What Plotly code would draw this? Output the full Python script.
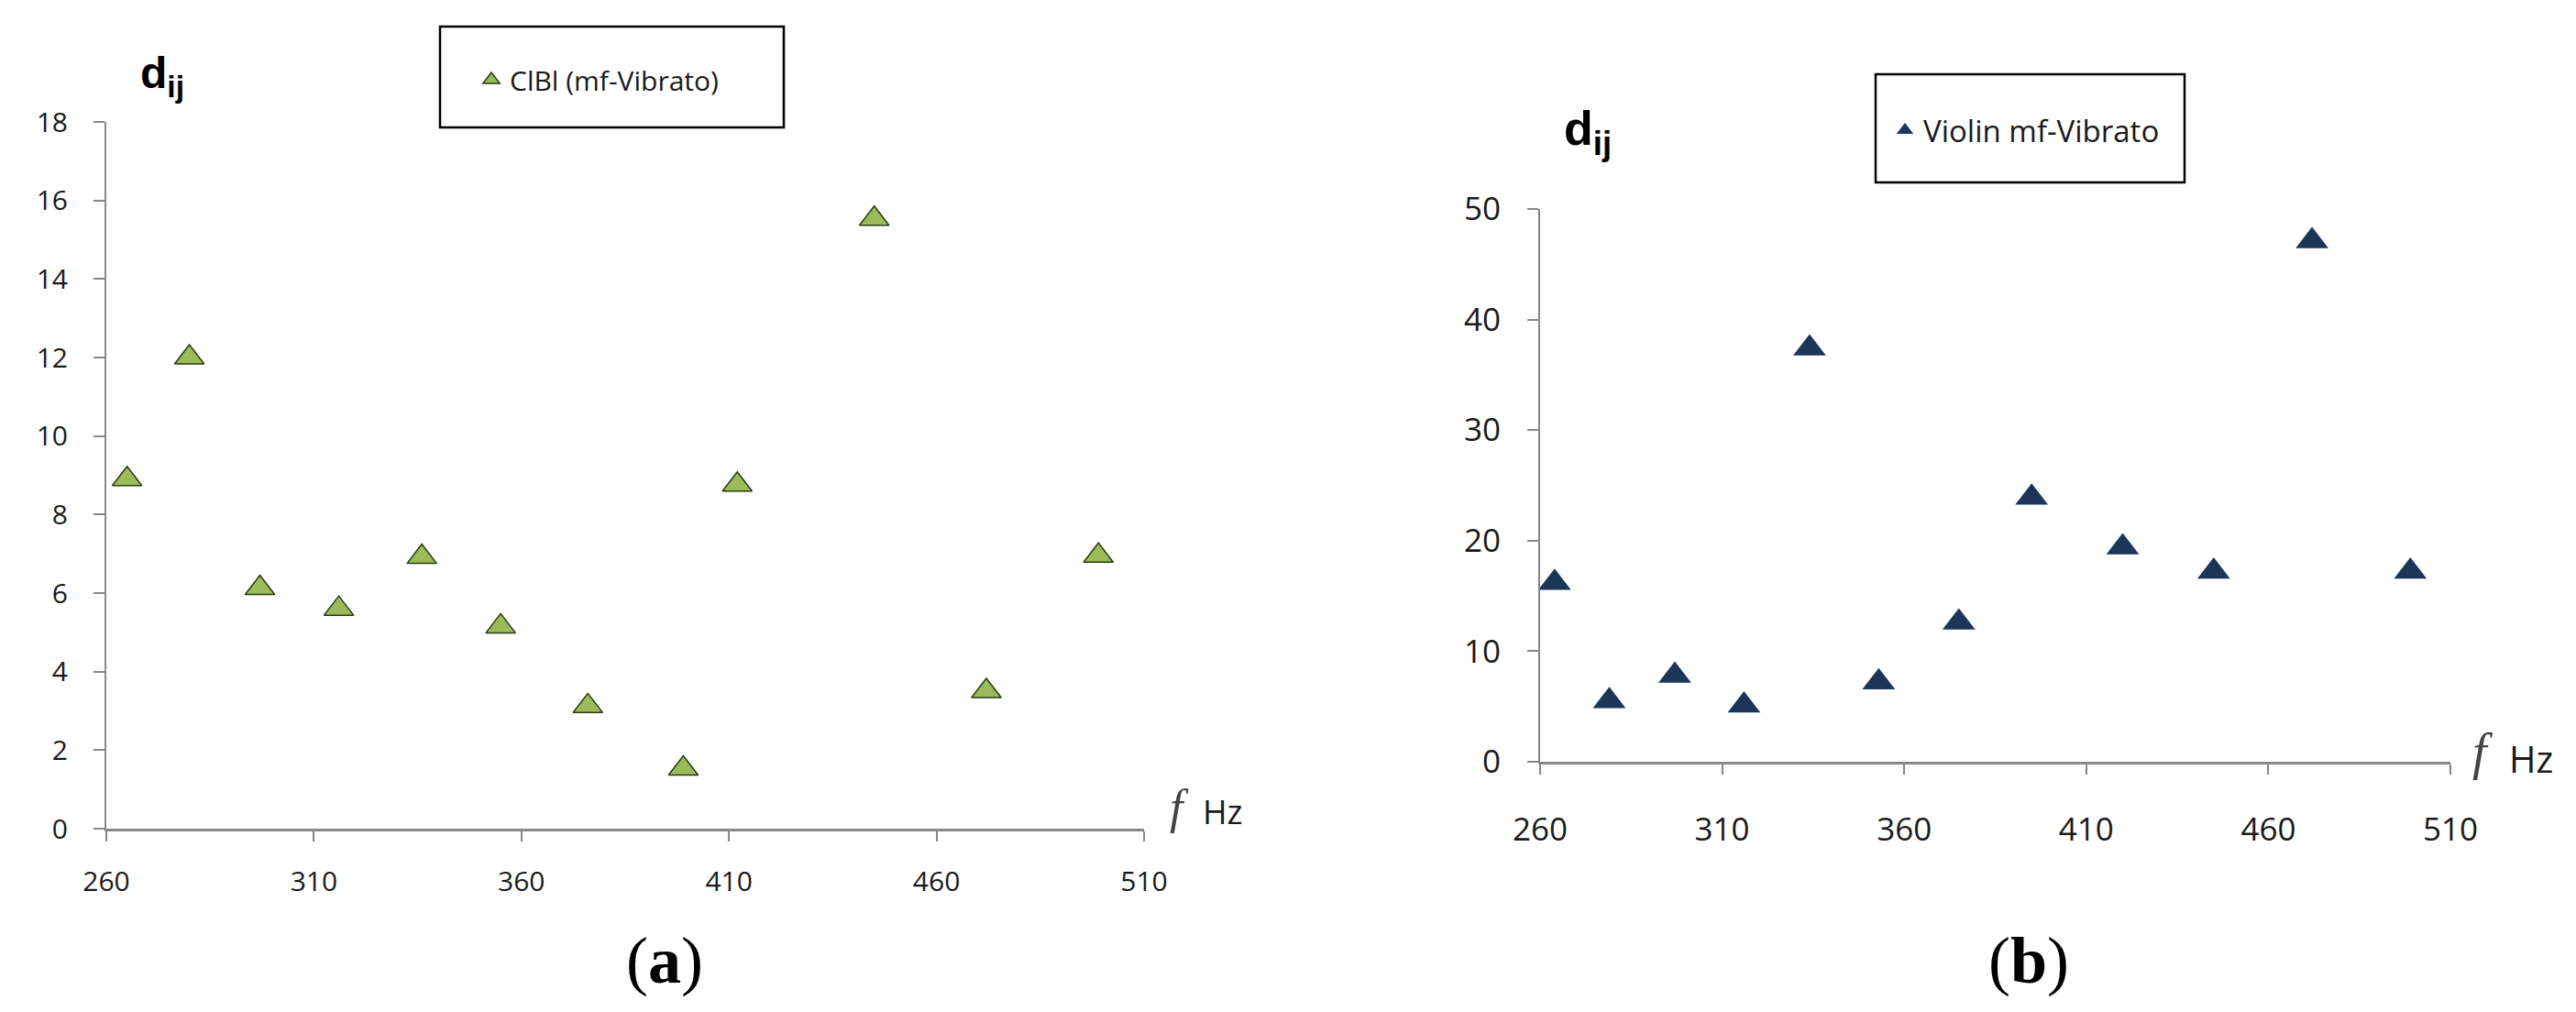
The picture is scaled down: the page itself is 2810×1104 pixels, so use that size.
import plotly.graph_objects as go

# ---------------- data ----------------
freq_a = [265, 280, 297, 316, 336, 355, 376, 399, 412, 445, 472, 499]
dij_a = [8.9, 12.0, 6.13, 5.6, 6.92, 5.15, 3.12, 1.53, 8.76, 15.53, 3.5, 6.95]
name_a = "ClBl (mf-Vibrato)"

freq_b = [264, 279, 297, 316, 334, 353, 375, 395, 420, 445, 472, 499]
dij_b = [16.2, 5.5, 7.8, 5.1, 37.4, 7.2, 12.6, 23.9, 19.4, 17.2, 47.1, 17.2]
name_b = "Violin mf-Vibrato"

x_ticks = [260, 310, 360, 410, 460, 510]
y_ticks_a = list(range(0, 19, 2))
y_ticks_b = list(range(0, 51, 10))

# ---------------- layout helpers ----------------
W, H = 2810, 1104
def px(x):
    return x / W
def py(y):
    return 1 - y / H

GREEN = "#9BBB59"
GREEN_EDGE = "#2A3A14"
NAVY = "#1C3558"
AXIS = "#878787"
TXT = "#1a1a1a"
FONT = "Open Sans"

fig = go.Figure()
fig.add_trace(go.Scatter(
    x=freq_a, y=dij_a, mode="markers", name=name_a,
    marker=dict(symbol="triangle-up", size=28, color=GREEN,
                line=dict(color=GREEN_EDGE, width=1.5)),
    xaxis="x", yaxis="y", legend="legend"))
fig.add_trace(go.Scatter(
    x=freq_b, y=dij_b, mode="markers", name=name_b,
    marker=dict(symbol="triangle-up", size=31, color=NAVY,
                line=dict(color=NAVY, width=0)),
    xaxis="x2", yaxis="y2", legend="legend2"))

def xaxis(domain, anchor, size, standoff):
    return dict(domain=domain, anchor=anchor, range=[260, 510], tickvals=x_ticks,
                showline=True, linecolor=AXIS, linewidth=3, ticks="outside",
                ticklen=11, tickwidth=2, tickcolor=AXIS, showgrid=False,
                zeroline=False, automargin=False, ticklabelstandoff=standoff,
                tickfont=dict(family=FONT, size=size, color=TXT), fixedrange=True)

def yaxis(domain, anchor, rng, ticks, size, standoff):
    return dict(domain=domain, anchor=anchor, range=rng, tickvals=ticks,
                showline=True, linecolor=AXIS, linewidth=2, ticks="outside",
                ticklen=12, tickwidth=2, tickcolor=AXIS, showgrid=False,
                zeroline=False, automargin=False, ticklabelstandoff=standoff,
                tickfont=dict(family=FONT, size=size, color=TXT), fixedrange=True)

# plot areas (pixels): left 108..1240 x 125..896 ; right 1672..2665 x 220..823
fig.update_layout(
    width=W, height=H, margin=dict(l=0, r=0, t=0, b=0),
    paper_bgcolor="white", plot_bgcolor="white",
    xaxis=xaxis([px(108), px(1240)], "y", 30, 18),
    yaxis=yaxis([py(896), py(125)], "x", [0, 18], y_ticks_a, 30, 22),
    xaxis2=xaxis([px(1672), px(2665)], "y2", 35, 30),
    yaxis2=yaxis([py(823), py(220)], "x2", [0, 50], y_ticks_b, 35, 22),
    showlegend=True,
    legend=dict(x=px(508), y=py(79), xanchor="left", yanchor="middle",
                bgcolor="rgba(0,0,0,0)", borderwidth=0,
                font=dict(family=FONT, size=30, color=TXT)),
    legend2=dict(x=px(2050), y=py(134), xanchor="left", yanchor="middle",
                 bgcolor="rgba(0,0,0,0)", borderwidth=0,
                 font=dict(family=FONT, size=33, color=TXT)),
)

# legend boxes
for (x0, y0, x1, y1) in [(472, 21, 847, 131), (2038, 73, 2375, 191)]:
    fig.add_shape(type="rect", xref="paper", yref="paper",
                  x0=px(x0), x1=px(x1), y0=py(y1), y1=py(y0),
                  line=dict(color="black", width=2.5), fillcolor="rgba(0,0,0,0)")

ann = []
# d_ij labels
ann.append(dict(text="<b>d<sub>ij</sub></b>", x=px(143), y=py(75), xanchor="left",
                yanchor="middle", font=dict(family="Liberation Sans", size=48, color="black")))
ann.append(dict(text="<b>d<sub>ij</sub></b>", x=px(1696), y=py(136), xanchor="left",
                yanchor="middle", font=dict(family="Liberation Sans", size=52, color="black")))
# f Hz labels
ann.append(dict(text="<i>f</i>", x=px(1278), y=py(872), xanchor="center", yanchor="middle",
                font=dict(family="Liberation Serif", size=52, color="#444")))
ann.append(dict(text="Hz", x=px(1325), y=py(877), xanchor="center", yanchor="middle",
                font=dict(family=FONT, size=36, color=TXT)))
ann.append(dict(text="<i>f</i>", x=px(2700), y=py(812), xanchor="center", yanchor="middle",
                font=dict(family="Liberation Serif", size=56, color="#444")))
ann.append(dict(text="Hz", x=px(2753), y=py(819), xanchor="center", yanchor="middle",
                font=dict(family=FONT, size=40, color=TXT)))
# panel letters
ann.append(dict(text="(<b>a</b>)", x=px(717), y=py(1040), xanchor="center", yanchor="middle",
                font=dict(family="Liberation Serif", size=72, color="black")))
ann.append(dict(text="(<b>b</b>)", x=px(2205), y=py(1040), xanchor="center", yanchor="middle",
                font=dict(family="Liberation Serif", size=72, color="black")))
for a in ann:
    a.update(xref="paper", yref="paper", showarrow=False)
fig.update_layout(annotations=ann)

fig.write_html("out.html")
